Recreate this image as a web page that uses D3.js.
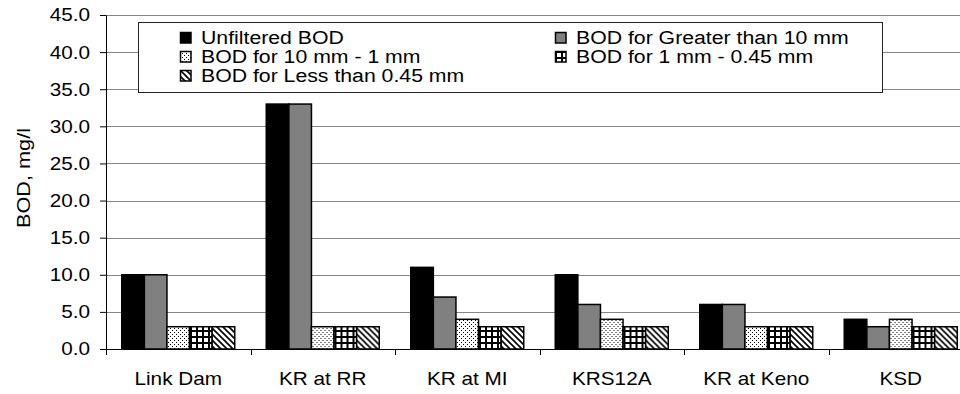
<!DOCTYPE html>
<html>
<head>
<meta charset="utf-8">
<script src="https://cdn.jsdelivr.net/npm/d3@7"></script>
<style>
  body { margin: 0; background: #fff; }
  svg { display: block; font-family: "Liberation Sans", Arial, sans-serif; }
</style>
</head>
<body>
<div id="chart"></div>
<script>
// sites along the x axis
var sites = ["Link Dam", "KR at RR", "KR at MI", "KRS12A", "KR at Keno", "KSD"];
var seriesNames = [
  "Unfiltered BOD",
  "BOD for Greater than 10 mm",
  "BOD for 10 mm - 1 mm",
  "BOD for 1 mm - 0.45 mm",
  "BOD for Less than 0.45 mm"
];
// one array per series, in site order
var unfiltered = [10, 33, 11, 10, 6, 4];
var greater10 = [10, 33, 7, 6, 6, 3];
var mm10to1 = [3, 3, 4, 4, 3, 4];
var mm1to045 = [3, 3, 3, 3, 3, 3];
var less045 = [3, 3, 3, 3, 3, 3];
var yTicks = [0, 5, 10, 15, 20, 25, 30, 35, 40, 45];

var seriesValues = [unfiltered, greater10, mm10to1, mm1to045, less045];
var fills = ["#000000", "#808080", "url(#dots)", "url(#grid)", "url(#diag)"];

var width = 960, height = 394;
var plotLeft = 106, plotTop = 15, plotBottom = 349;
var catW = 144.5;

// the source text is a bit wider than plain Arial, stretch it to match
function stretch(sel, k){
  sel.each(function(){
    var w = this.getComputedTextLength();
    d3.select(this).attr("textLength", w * k).attr("lengthAdjust", "spacingAndGlyphs");
  });
}

var svg = d3.select("#chart").append("svg")
  .attr("width", width).attr("height", height);

// hatch patterns for the size fractions
var defs = svg.append("defs");

var dots = defs.append("pattern").attr("id", "dots")
  .attr("patternUnits", "userSpaceOnUse").attr("width", 4).attr("height", 4);
dots.append("rect").attr("width", 4).attr("height", 4).attr("fill", "#fff");
dots.append("rect").attr("x", 0).attr("y", 0).attr("width", 1).attr("height", 1).attr("fill", "#000");
dots.append("rect").attr("x", 2).attr("y", 2).attr("width", 1).attr("height", 1).attr("fill", "#000");

var grid = defs.append("pattern").attr("id", "grid")
  .attr("patternUnits", "userSpaceOnUse").attr("width", 6).attr("height", 6);
grid.append("rect").attr("width", 6).attr("height", 6).attr("fill", "#fff");
grid.append("rect").attr("x", 0).attr("y", 0).attr("width", 2).attr("height", 6).attr("fill", "#000");
grid.append("rect").attr("x", 0).attr("y", 0).attr("width", 6).attr("height", 2).attr("fill", "#000");

var diag = defs.append("pattern").attr("id", "diag")
  .attr("patternUnits", "userSpaceOnUse").attr("width", 6).attr("height", 6);
diag.append("rect").attr("width", 6).attr("height", 6).attr("fill", "#fff");
diag.append("path").attr("d", "M-1,-1 L7,7 M-4,2 L2,8 M4,-2 L10,4")
  .attr("stroke", "#000").attr("stroke-width", 1.6);

var y = d3.scaleLinear().domain([0, 45]).range([plotBottom, plotTop]);
var x0 = d3.scaleBand().domain(sites).range([plotLeft, plotLeft + catW * sites.length]);
var x1 = d3.scaleBand().domain(d3.range(seriesNames.length))
  .range([x0.bandwidth() * 0.109, x0.bandwidth() * 0.891]);

// gridlines
svg.append("g").selectAll("line")
  .data(yTicks.filter(function(d){ return d > 0; }))
  .enter().append("line")
  .attr("x1", plotLeft).attr("x2", width)
  .attr("y1", function(d){ return Math.round(y(d)) + 0.5; })
  .attr("y2", function(d){ return Math.round(y(d)) + 0.5; })
  .attr("stroke", "#858585").attr("stroke-width", 1);

// bars
var groups = svg.append("g").selectAll("g")
  .data(sites)
  .enter().append("g")
  .attr("transform", function(d){ return "translate(" + x0(d) + ",0)"; });

groups.selectAll("rect")
  .data(function(d, i){
    return seriesValues.map(function(s, k){ return { k: k, v: s[i] }; });
  })
  .enter().append("rect")
  .attr("x", function(d){ return x1(d.k); })
  .attr("width", x1.bandwidth())
  .attr("y", function(d){ return y(d.v); })
  .attr("height", function(d){ return plotBottom - y(d.v); })
  .attr("fill", function(d){ return fills[d.k]; })
  .attr("stroke", "#000").attr("stroke-width", 1.5);

// y axis
var yAxis = svg.append("g")
  .attr("transform", "translate(" + plotLeft + ",0)")
  .call(d3.axisLeft(y).tickValues(yTicks).tickSize(6).tickPadding(10).tickSizeOuter(0)
    .tickFormat(d3.format(".1f")));
yAxis.selectAll("text").attr("font-size", 18.5).attr("fill", "#000")
  .attr("font-family", "Liberation Sans, Arial, sans-serif");
yAxis.selectAll("line, path").attr("stroke", "#000");
stretch(yAxis.selectAll("text"), 1.12);

// x axis line and boundary ticks
svg.append("line")
  .attr("x1", plotLeft).attr("x2", width)
  .attr("y1", plotBottom + 0.5).attr("y2", plotBottom + 0.5)
  .attr("stroke", "#000");
svg.append("g").selectAll("line")
  .data(d3.range(sites.length + 1))
  .enter().append("line")
  .attr("x1", function(i){ return Math.round(plotLeft + i * x0.step()) + 0.5; })
  .attr("x2", function(i){ return Math.round(plotLeft + i * x0.step()) + 0.5; })
  .attr("y1", plotBottom).attr("y2", plotBottom + 6)
  .attr("stroke", "#000");

var catLabels = svg.append("g").selectAll("text")
  .data(sites)
  .enter().append("text")
  .attr("x", function(d){ return x0(d) + x0.bandwidth() / 2; })
  .attr("y", 385)
  .attr("text-anchor", "middle")
  .attr("font-size", 18.5)
  .text(function(d){ return d; });
stretch(catLabels, 1.12);

// y label
svg.append("text")
  .attr("transform", "translate(30,178) rotate(-90)")
  .attr("text-anchor", "middle")
  .attr("font-size", 18.5)
  .attr("textLength", 100).attr("lengthAdjust", "spacingAndGlyphs")
  .text("BOD, mg/l");

// legend
svg.append("rect")
  .attr("x", 138.5).attr("y", 22.5).attr("width", 744).attr("height", 70)
  .attr("fill", "#fff").attr("stroke", "#222").attr("stroke-width", 1);

var legendPos = [[180, 32], [555, 32], [180, 51], [555, 51], [180, 70]];
var legend = svg.append("g").selectAll("g")
  .data(seriesNames)
  .enter().append("g")
  .attr("transform", function(d, i){
    return "translate(" + legendPos[i][0] + "," + legendPos[i][1] + ")";
  });
legend.append("rect")
  .attr("x", 0.5).attr("y", 0.5)
  .attr("width", 10.5).attr("height", 10.5)
  .attr("fill", function(d, i){ return fills[i]; })
  .attr("stroke", "#000").attr("stroke-width", 1.5);
var legendText = legend.append("text")
  .attr("x", 21).attr("y", 12)
  .attr("font-size", 18)
  .text(function(d){ return d; });
stretch(legendText, 1.18);
</script>
</body>
</html>
